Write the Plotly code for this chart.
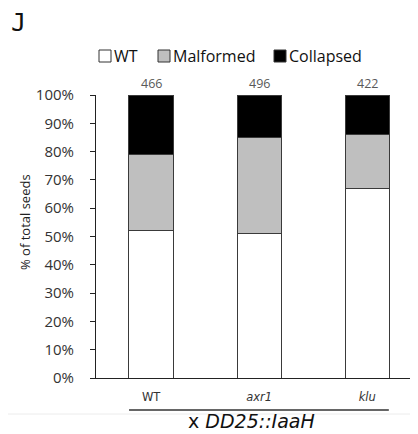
import plotly.graph_objects as go

categories = ["WT", "<i>axr1</i>", "<i>klu</i>"]
totals = ["466", "496", "422"]
series_names = ["WT", "Malformed", "Collapsed"]
wt = [52, 51, 67]
malformed = [27, 34, 19]
collapsed = [21, 15, 14]
yticks = list(range(0, 101, 10))
ytick_labels = [f"{v}%" for v in yticks]

colors = ["#ffffff", "#bfbfbf", "#000000"]

# the page body has an 8px margin; size the figure to fit the window
OFF = 8
W, H = 418 - OFF, 434 - OFF
L, R, T, B = 96 - OFF, 0, 95 - OFF, 56
pw, ph = W - L - R, H - T - B


def px(sx):  # screen x -> paper x
    return (sx - OFF - L) / pw


def py(sy):  # screen y -> paper y
    return (T + ph - (sy - OFF)) / ph


xpos = [0, 1, 2]
fig = go.Figure()
line = dict(color="#3a3a3a", width=1)
for name, vals, col in zip(series_names, [wt, malformed, collapsed], colors):
    fig.add_trace(go.Bar(x=xpos, y=vals, name=name,
                         marker=dict(color=col, line=line), width=0.41))

anns = []
shapes = []
for i, t in enumerate(totals):
    anns.append(dict(x=xpos[i], y=100, xref="x", yref="y", text=t, showarrow=False,
                     yanchor="middle", yshift=12,
                     font=dict(family="Open Sans", size=12.5, color="#595959")))
anns.append(dict(x=px(25), y=py(222), xref="paper", yref="paper",
                 xanchor="center", yanchor="middle",
                 text="% of total seeds", textangle=-90, showarrow=False,
                 font=dict(family="Open Sans", size=13, color="#222")))
anns.append(dict(x=px(251), y=py(421), xref="paper", yref="paper",
                 xanchor="center", yanchor="middle",
                 text="x <i>DD25::IaaH</i>", showarrow=False,
                 font=dict(family="DejaVu Sans", size=19, color="#111")))
anns.append(dict(x=px(18), y=py(23), xref="paper", yref="paper",
                 xanchor="center", yanchor="middle",
                 text="J", showarrow=False,
                 font=dict(family="DejaVu Sans Mono", size=25, color="#111")))

# legend drawn by hand (square + label)
leg_sq_x = [99, 158, 274]
for name, col, sx in zip(series_names, colors, leg_sq_x):
    shapes.append(dict(type="rect", xref="paper", yref="paper",
                       x0=px(sx), x1=px(sx + 12), y0=py(62), y1=py(50),
                       fillcolor=col, line=dict(color="#333", width=1)))
    anns.append(dict(x=px(sx + 13), y=py(56), xref="paper", yref="paper",
                     xanchor="left", yanchor="middle", text=name, showarrow=False,
                     font=dict(family="Open Sans", size=16, color="#111")))

shapes += [
    dict(type="line", xref="x", yref="paper", x0=-0.204, x1=2.2,
         y0=py(410), y1=py(410), line=dict(color="#333", width=1.3)),
    dict(type="line", xref="paper", yref="paper", x0=px(0), x1=1,
         y0=py(414), y1=py(414), line=dict(color="#ececec", width=1)),
]

fig.update_layout(
    width=W, height=H, margin=dict(l=L, r=R, t=T, b=B),
    barmode="stack", plot_bgcolor="white", paper_bgcolor="white",
    showlegend=False,
    annotations=anns, shapes=shapes,
    font=dict(family="Open Sans", color="#333"),
)
fig.update_xaxes(range=[-0.51, 2.47], tickvals=xpos, ticktext=categories,
                 showline=True, linecolor="#222", linewidth=1, ticks="",
                 showgrid=False, zeroline=False,
                 tickfont=dict(family="DejaVu Sans", size=11.5, color="#333"),
                 ticklabelstandoff=8)
fig.update_yaxes(range=[0, 100], tickvals=yticks, ticktext=ytick_labels,
                 showline=True, linecolor="#222", linewidth=1, ticks="outside",
                 ticklen=5, tickcolor="#222", showgrid=False, zeroline=False,
                 tickfont=dict(family="Open Sans", size=15, color="#333"),
                 ticklabelstandoff=13)

fig.write_html("out.html")
